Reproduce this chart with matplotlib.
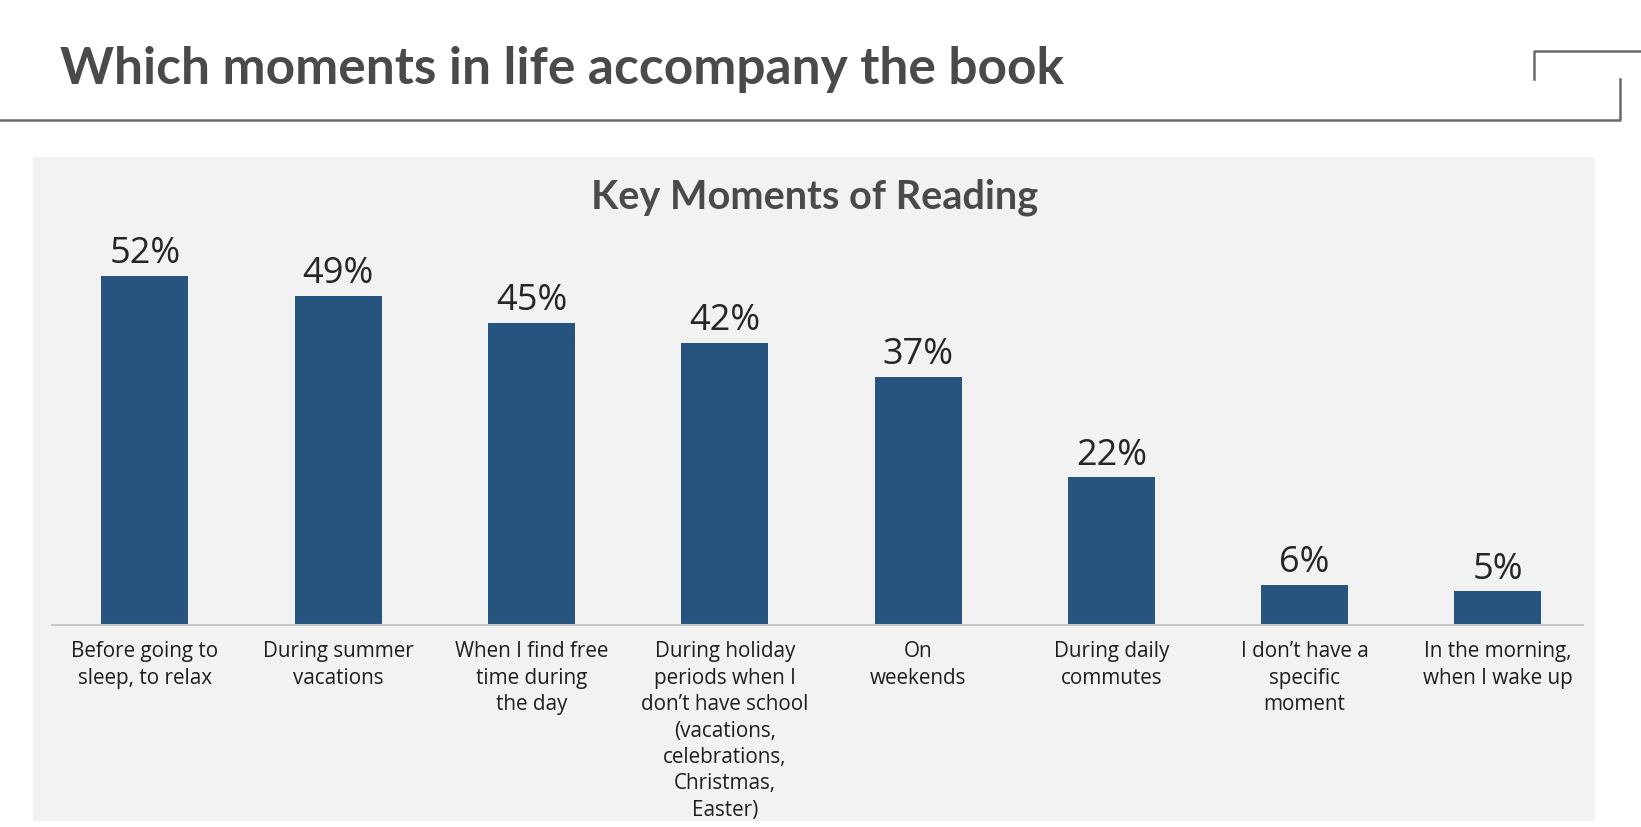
# key moments of reading - bar chart
import numpy as np
import matplotlib.pyplot as plt
from matplotlib.patches import Rectangle
from matplotlib.lines import Line2D

# data
categories = ['Before going to\nsleep, to relax',
              'During summer\nvacations',
              'When I find free\ntime during\nthe day',
              'During holiday\nperiods when I\ndon\u2019t have school\n(vacations,\ncelebrations,\nChristmas,\nEaster)',
              'On\nweekends',
              'During daily\ncommutes',
              'I don\u2019t have a\nspecific\nmoment',
              'In the morning,\nwhen I wake up']
values = [52, 49, 45, 42, 37, 22, 6, 5]
value_labels = ['52%', '49%', '45%', '42%', '37%', '22%', '6%', '5%']

plt.rcParams['font.family'] = ['Open Sans', 'DejaVu Sans']

W, H = 1641, 828
fig = plt.figure(figsize=(W / 100, H / 100), dpi=100)
fig.patch.set_facecolor('white')

# grey panel behind the chart
fig.patches.append(Rectangle((33 / W, 1 - 822 / H), 1562 / W, 664 / H,
                             transform=fig.transFigure, facecolor='#f2f2f2',
                             edgecolor='none', zorder=-10))

# header title and frame lines
fig.text(60 / W, 1 - 84 / H, 'Which moments in life accompany the book',
         fontsize=37, fontweight='bold', color='#4a4a4a', va='baseline', ha='left',
         family=['Lato', 'DejaVu Sans'])
line_col = '#6a6a6a'
fig.lines.append(Line2D([0, 1620 / W, 1620 / W], [1 - 121 / H, 1 - 121 / H, 1 - 80 / H],
                        transform=fig.transFigure, color=line_col, lw=1.8))
fig.lines.append(Line2D([1534 / W, 1534 / W, 1.0], [1 - 80 / H, 1 - 52 / H, 1 - 52 / H],
                        transform=fig.transFigure, color=line_col, lw=1.8))

# chart title
fig.text(815 / W, 1 - 208 / H, 'Key Moments of Reading', fontsize=28.5,
         fontweight='bold', color='#4a4a4a', ha='center', va='baseline',
         family=['Lato', 'DejaVu Sans'])

ax = fig.add_axes([52 / W, 1 - 626 / H, (1583 - 52) / W, (626 - 200) / H])
ax.set_facecolor('none')
ax.set_zorder(2)
x = np.arange(len(categories))
bars = ax.bar(x, values, width=0.45, color='#27537f', zorder=2)

for xi, v, lab in zip(x, values, value_labels):
    ax.annotate(lab, (xi, v), xytext=(0, 10), textcoords='offset points',
                ha='center', va='baseline', fontsize=26, color='#262626')

ax.set_xlim(-0.48, 7.44)
ax.set_ylim(0, 63.5)
ax.set_xticks(x)
ax.set_xticklabels(categories, fontsize=14.9, color='#1e1e1e', linespacing=1.34)
ax.tick_params(axis='x', length=0, pad=11)
ax.set_yticks([])
for s in ['top', 'right', 'left']:
    ax.spines[s].set_visible(False)
ax.spines['bottom'].set_color('#c4c4c4')
ax.spines['bottom'].set_linewidth(1.5)

# save figure
plt.savefig('out.png', dpi=100, facecolor=fig.get_facecolor())
